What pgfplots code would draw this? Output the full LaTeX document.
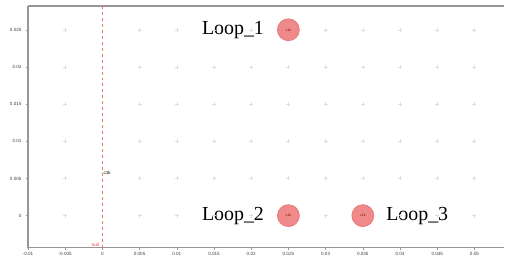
\documentclass[border=0pt]{standalone}
\usepackage{pgfplots}
\pgfplotsset{compat=1.18}
\usepackage{fontspec}
\setmainfont{Liberation Serif}
\newfontfamily\labfont{Liberation Sans}
\definecolor{axgray}{RGB}{150,150,150}
\definecolor{circfill}{RGB}{240,138,138}
\definecolor{circdraw}{RGB}{230,112,112}
\definecolor{dashred}{RGB}{235,120,110}
\definecolor{gridmark}{RGB}{222,222,222}
\begin{document}
\begin{tikzpicture}
\begin{axis}[
  name=ax,
  scale only axis,
  width=477bp, height=242bp,
  xmin=-0.01, xmax=0.054,
  ymin=-0.0043, ymax=0.0282,
  scaled ticks=false,
  axis line style={axgray, line width=1.6bp},
  axis x line*=bottom, axis y line*=left,
  separate axis lines,
  x axis line style={-}, y axis line style={-},
  xtick={-0.01,-0.005,0,0.005,0.01,0.015,0.02,0.025,0.03,0.035,0.04,0.045,0.05},
  ytick={0,0.005,0.01,0.015,0.02,0.025},
  xticklabels={-0.01,-0.005,0,0.005,0.01,0.015,0.02,0.025,0.03,0.035,0.04,0.045,0.05},
  yticklabels={0,0.005,0.01,0.015,0.02,0.025},
  tick style={axgray, line width=0.5bp},
  major tick length=2bp,
  tick align=outside,
  ticklabel style={font=\labfont\fontsize{4.6}{4.6}\selectfont, text=black!75},
  xticklabel style={yshift=1bp},
  yticklabel style={xshift=-1bp},
  clip=false,
]
% top frame line
\addplot[axgray, line width=1.6bp] coordinates {(-0.01,0.0282) (0.054,0.0282)};
% faint grid marks
\addplot[only marks, mark=+, mark size=2bp, gridmark, line width=0.4bp] coordinates {
(-0.005,0) (0.005,0) (0.01,0) (0.015,0) (0.02,0) (0.03,0) (0.04,0) (0.045,0) (0.05,0)
(-0.005,0.005) (0.005,0.005) (0.01,0.005) (0.015,0.005) (0.02,0.005) (0.025,0.005) (0.03,0.005) (0.035,0.005) (0.04,0.005) (0.045,0.005) (0.05,0.005)
(-0.005,0.01) (0.005,0.01) (0.01,0.01) (0.015,0.01) (0.02,0.01) (0.025,0.01) (0.03,0.01) (0.035,0.01) (0.04,0.01) (0.045,0.01) (0.05,0.01)
(-0.005,0.015) (0.005,0.015) (0.01,0.015) (0.015,0.015) (0.02,0.015) (0.025,0.015) (0.03,0.015) (0.035,0.015) (0.04,0.015) (0.045,0.015) (0.05,0.015)
(-0.005,0.02) (0.005,0.02) (0.01,0.02) (0.015,0.02) (0.02,0.02) (0.025,0.02) (0.03,0.02) (0.035,0.02) (0.04,0.02) (0.045,0.02) (0.05,0.02)
(-0.005,0.025) (0.005,0.025) (0.01,0.025) (0.015,0.025) (0.02,0.025) (0.03,0.025) (0.035,0.025) (0.04,0.025) (0.045,0.025) (0.05,0.025)
};
% dashed vertical line at x=0
\addplot[dashred, dashed, line width=1bp] coordinates {(0,-0.0043) (0,0.0282)};
% loops
\addplot[only marks, mark=*, mark size=11bp,
  mark options={fill=circfill, draw=circdraw, line width=0.6bp},
  nodes near coords={\labfont\fontsize{3.5}{3.5}\selectfont c1k},
  every node near coord/.style={anchor=center, text=red!50!black}]
  coordinates {(0.025,0.025) (0.025,0) (0.035,0)};
\node[anchor=east, font=\fontsize{20}{20}\selectfont] at (axis cs:0.025,0.025) [xshift=-21bp] {Loop\_1};
\node[anchor=east, font=\fontsize{20}{20}\selectfont] at (axis cs:0.025,0) [xshift=-21bp] {Loop\_2};
\node[anchor=west, font=\fontsize{20}{20}\selectfont] at (axis cs:0.035,0) [xshift=20bp] {Loop\_3};
\node[anchor=west, font=\labfont\fontsize{4.6}{4.6}\selectfont, inner sep=1bp] at (axis cs:0,0.0058) {c1k};
\node[anchor=south east, font=\labfont\fontsize{4.6}{4.6}\selectfont, text=red!80, inner sep=1bp] at (axis cs:-0.0003,-0.0043) {null};
\end{axis}
\path[use as bounding box] ([xshift=-28bp,yshift=-11bp]ax.south west) rectangle ([yshift=6bp]ax.north east);
\end{tikzpicture}
\end{document}
